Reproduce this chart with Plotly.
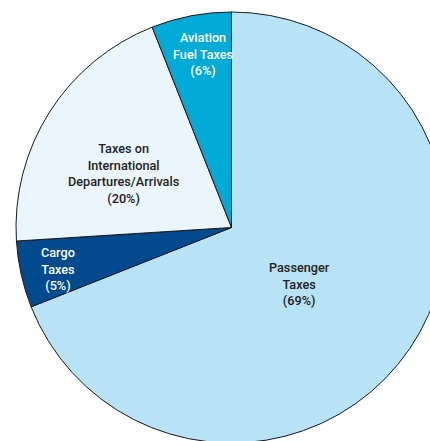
import plotly.graph_objects as go

# ---- data ----
categories = ["Passenger Taxes", "Cargo Taxes",
              "Taxes on International Departures/Arrivals", "Aviation Fuel Taxes"]
shares = [69, 5, 20, 6]
label_lines = [["Passenger", "Taxes"], ["Cargo", "Taxes"],
               ["Taxes on", "International", "Departures/Arrivals"],
               ["Aviation", "Fuel Taxes"]]

# ---- styles ----
colors = ["#B8E2F6", "#004A8D", "#EAF5FD", "#00AAD6"]
text_colors = ["#222222", "#FFFFFF", "#222222", "#FFFFFF"]
# label centres in page pixels (layout)
label_px = [(299, 284), (58, 269), (123, 173), (203, 54)]

W, H = 447, 444
L, T = 16, 11
PW, PH = W - L, H - T

fig = go.Figure(go.Pie(
    labels=categories, values=shares, sort=False, direction="clockwise",
    rotation=0, marker=dict(colors=colors, line=dict(color="#1a1a1a", width=1)),
    textinfo="none", hoverinfo="label+percent", showlegend=False,
))

annotations = []
for lines, v, (px, py), c in zip(label_lines, shares, label_px, text_colors):
    txt = "<br>".join(lines + [f"({v}%)"])
    annotations.append(dict(
        x=(px - L) / PW, y=1 - (py - T) / PH, xref="paper", yref="paper",
        text=txt, showarrow=False, xanchor="center", yanchor="middle",
        font=dict(family="Roboto", size=12.7, color=c, weight=500),
    ))

fig.update_layout(
    width=W, height=H, margin=dict(l=L, r=0, t=T, b=0),
    paper_bgcolor="white", plot_bgcolor="white",
    annotations=annotations,
)

fig.write_html("out.html", config={"displayModeBar": False},
               post_script="document.body.style.margin='0';document.body.style.overflow='hidden';document.documentElement.style.overflow='hidden';")
